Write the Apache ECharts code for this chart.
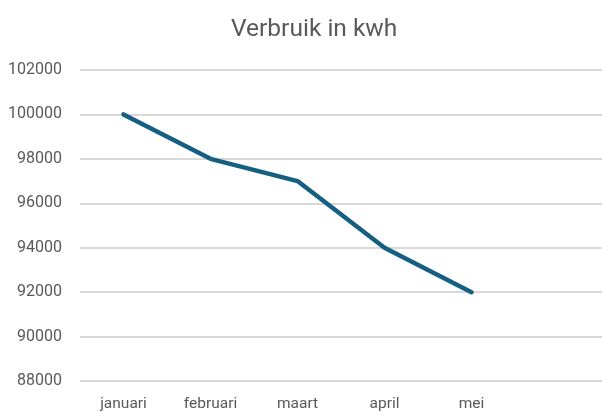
<!DOCTYPE html>
<html><head><meta charset="utf-8">
<script src="https://cdn.jsdelivr.net/npm/echarts@6/dist/echarts.min.js"></script>
<style>html,body{margin:0;padding:0;background:#fff}#c{width:607px;height:419px}</style>
</head><body><div id="c"></div>
<script>
const categories = ['januari', 'februari', 'maart', 'april', 'mei', ''];
const verbruik = [100000, 98000, 97000, 94000, 92000, null];
const yTicks = { min: 88000, max: 102000, interval: 2000 };

const chart = echarts.init(document.getElementById('c'));
chart.setOption({
  animation: false,
  title: {
    text: 'Verbruik in kwh', left: 226, top: 12,
    textStyle: { fontFamily: 'Roboto', fontSize: 24.5, fontWeight: 'normal', color: '#595959' }
  },
  grid: { left: 80, right: 5, top: 70, bottom: 38 },
  xAxis: {
    type: 'category', data: categories, boundaryGap: true,
    axisLine: { show: false }, axisTick: { show: false },
    axisLabel: { fontFamily: 'Roboto', fontSize: 15.5, color: '#595959', margin: 15, interval: 0 }
  },
  yAxis: {
    type: 'value', min: yTicks.min, max: yTicks.max, interval: yTicks.interval,
    axisLine: { show: false }, axisTick: { show: false },
    splitLine: { lineStyle: { color: '#d9d9d9', width: 2 } },
    axisLabel: { fontFamily: 'Roboto', fontSize: 16, color: '#595959', margin: 18,
      formatter: v => String(v) }
  },
  series: [{
    type: 'line', data: verbruik, symbol: 'none',
    lineStyle: { color: '#156082', width: 4.5, cap: 'round', join: 'round' }
  }]
});
</script></body></html>
